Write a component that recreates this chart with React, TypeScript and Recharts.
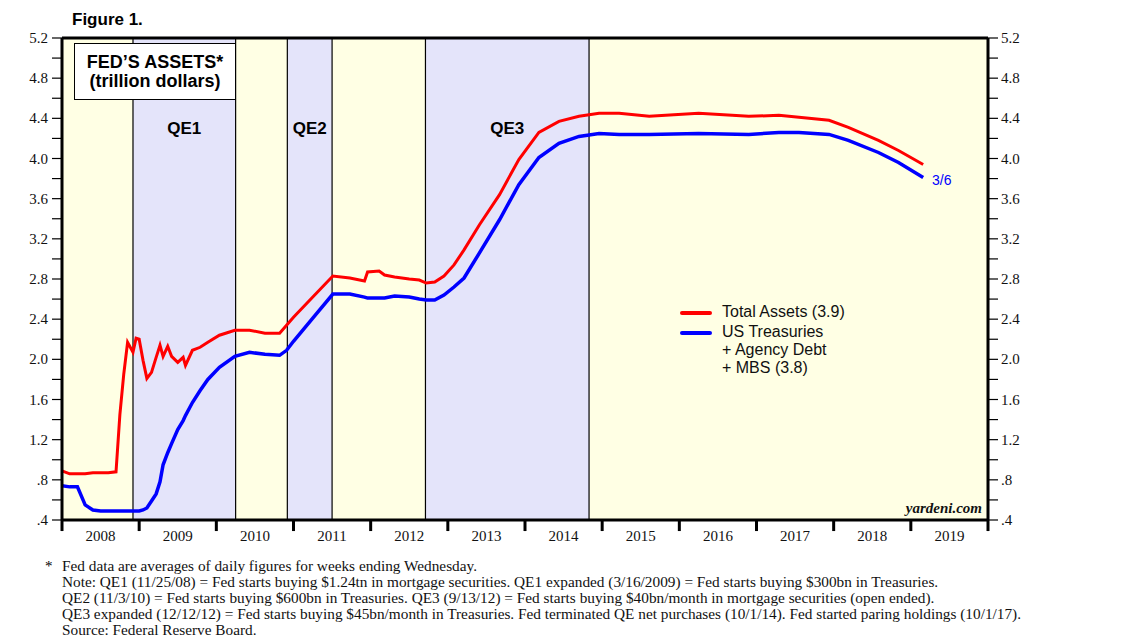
import {
  ComposedChart,
  Line,
  XAxis,
  YAxis,
  ReferenceArea,
  ReferenceLine,
} from "recharts";

// decimal years, weekly data thinned to readable points
const dates = [
  2008.0, 2008.1, 2008.2, 2008.3, 2008.4, 2008.5, 2008.6, 2008.7, 2008.75, 2008.8,
  2008.85, 2008.92, 2008.96, 2009.0, 2009.05, 2009.1, 2009.16, 2009.22, 2009.27, 2009.31,
  2009.37, 2009.42, 2009.5, 2009.57, 2009.6, 2009.69, 2009.79, 2009.89, 2010.04, 2010.24,
  2010.43, 2010.63, 2010.82, 2010.91, 2011.0, 2011.25, 2011.51, 2011.73, 2011.92, 2011.96,
  2012.11, 2012.18, 2012.31, 2012.5, 2012.63, 2012.72, 2012.83, 2012.95, 2013.08, 2013.21,
  2013.41, 2013.67, 2013.92, 2014.18, 2014.44, 2014.7, 2014.96, 2015.22, 2015.61, 2016.25,
  2016.9, 2017.29, 2017.55, 2017.94, 2018.19, 2018.58, 2018.84, 2019.16,
];

const totalAssets = [
  0.89, 0.86, 0.86, 0.86, 0.87, 0.87, 0.87, 0.88, 1.45, 1.85,
  2.17, 2.07, 2.21, 2.2, 1.99, 1.81, 1.87, 2.02, 2.14, 2.03,
  2.13, 2.03, 1.97, 2.02, 1.94, 2.09, 2.12, 2.17, 2.24, 2.29,
  2.29, 2.26, 2.26, 2.34, 2.42, 2.62, 2.83, 2.81, 2.78, 2.87,
  2.88, 2.84, 2.82, 2.8, 2.79, 2.76, 2.77, 2.83, 2.94, 3.09,
  3.34, 3.64, 3.99, 4.26, 4.37, 4.42, 4.45, 4.45, 4.42, 4.45,
  4.42, 4.43, 4.41, 4.38, 4.31, 4.18, 4.08, 3.94,
];

const treasuriesMbs = [
  0.74, 0.73, 0.73, 0.55, 0.5, 0.49, 0.49, 0.49, 0.49, 0.49,
  0.49, 0.49, 0.49, 0.49, 0.5, 0.52, 0.59, 0.66, 0.78, 0.95,
  1.07, 1.16, 1.3, 1.39, 1.44, 1.57, 1.69, 1.8, 1.92, 2.03,
  2.07, 2.05, 2.04, 2.09, 2.18, 2.41, 2.65, 2.65, 2.62, 2.61,
  2.61, 2.61, 2.63, 2.62, 2.6, 2.59, 2.59, 2.64, 2.72, 2.81,
  3.06, 3.39, 3.74, 4.01, 4.15, 4.22, 4.25, 4.24, 4.24, 4.25,
  4.24, 4.26, 4.26, 4.24, 4.18, 4.06, 3.96, 3.81,
];

const years = [2008, 2009, 2010, 2011, 2012, 2013, 2014, 2015, 2016, 2017, 2018, 2019];
const yearBounds = [2008, 2009, 2010, 2011, 2012, 2013, 2014, 2015, 2016, 2017, 2018, 2019, 2020];

const yTicks = [0.4, 0.6, 0.8, 1.0, 1.2, 1.4, 1.6, 1.8, 2.0, 2.2, 2.4, 2.6, 2.8, 3.0, 3.2, 3.4, 3.6, 3.8, 4.0, 4.2, 4.4, 4.6, 4.8, 5.0, 5.2];
const yTickLabels = [".4", "", ".8", "", "1.2", "", "1.6", "", "2.0", "", "2.4", "", "2.8", "", "3.2", "", "3.6", "", "4.0", "", "4.4", "", "4.8", "", "5.2"];

const qePeriods = [
  { name: "QE1", start: 2008.92, end: 2010.25 },
  { name: "QE2", start: 2010.92, end: 2011.5 },
  { name: "QE3", start: 2012.71, end: 2014.83 },
];

const footnotes = [
  "Fed data are averages of daily figures for weeks ending Wednesday.",
  "Note: QE1 (11/25/08) = Fed starts buying $1.24tn in mortgage securities. QE1 expanded (3/16/2009) = Fed starts buying $300bn in Treasuries.",
  "QE2 (11/3/10) = Fed starts buying $600bn in Treasuries. QE3 (9/13/12) = Fed starts buying $40bn/month in mortgage securities (open ended).",
  "QE3 expanded (12/12/12) = Fed starts buying $45bn/month in Treasuries. Fed terminated QE net purchases (10/1/14). Fed started paring holdings (10/1/17).",
  "Source: Federal Reserve Board.",
];

const data = dates.map((t, i) => ({ t, total: totalAssets[i], treas: treasuriesMbs[i] }));

const SANS = "'Liberation Sans', Arial, sans-serif";
const SERIF = "'Liberation Serif', 'Times New Roman', serif";

const yFmt = (v: number) => {
  const i = yTicks.findIndex((t) => Math.abs(t - v) < 1e-6);
  return i >= 0 ? yTickLabels[i] : "";
};

const LeftTick = (p: any) => (
  <text x={p.x} y={p.y} dy={5} textAnchor="end" fontSize={15} fontFamily={SERIF} fill="#111">
    {yFmt(p.payload.value)}
  </text>
);

const RightTick = (p: any) => (
  <text x={p.x} y={p.y} dy={5} textAnchor="start" fontSize={15} fontFamily={SERIF} fill="#111">
    {yFmt(p.payload.value)}
  </text>
);

const YearTick = (p: any) => (
  <text x={p.x} y={p.y} dy={12} textAnchor="middle" fontSize={15} fontFamily={SERIF} fill="#111">
    {Math.floor(p.payload.value)}
  </text>
);

export default function App() {
  return (
    <div style={{ position: "relative", width: 1130, height: 629 }}>
      <ComposedChart
        width={1040}
        height={560}
        data={data}
        margin={{ top: 30, right: 0, left: 0, bottom: 0 }}
      >
        <XAxis
          xAxisId="x"
          dataKey="t"
          type="number"
          domain={[2008, 2020]}
          allowDataOverflow
          ticks={years.map((y) => y + 0.5)}
          tickLine={false}
          tickSize={6}
          tickMargin={3}
          axisLine={{ stroke: "#000", strokeWidth: 3 }}
          tick={YearTick}
          height={48}
          interval={0}
        />
        <YAxis
          yAxisId="l"
          orientation="left"
          domain={[0.4, 5.2]}
          ticks={yTicks}
          interval={0}
          width={54}
          tickSize={10}
          tickMargin={4}
          axisLine={{ stroke: "#000", strokeWidth: 3 }}
          tickLine={{ stroke: "#000", strokeWidth: 1.2 }}
          tick={LeftTick}
          allowDataOverflow
        />
        <YAxis
          yAxisId="r"
          orientation="right"
          domain={[0.4, 5.2]}
          ticks={yTicks}
          interval={0}
          width={60}
          tickSize={10}
          tickMargin={3}
          axisLine={{ stroke: "#000", strokeWidth: 3 }}
          tickLine={{ stroke: "#000", strokeWidth: 1.2 }}
          tick={RightTick}
          allowDataOverflow
        />

        <ReferenceArea
          xAxisId="x"
          yAxisId="l"
          x1={2008}
          x2={2020}
          y1={0.4}
          y2={5.2}
          fill="#FFFFE4"
          fillOpacity={1}
          stroke="none"
        />
        {qePeriods.map((q) => (
          <ReferenceArea
            key={q.name}
            xAxisId="x"
            yAxisId="l"
            x1={q.start}
            x2={q.end}
            y1={0.4}
            y2={5.2}
            fill="#E4E4FA"
            fillOpacity={1}
            stroke="none"
            label={{
              value: q.name,
              position: "insideTop",
              offset: 84,
              fill: "#000",
              fontSize: 17,
              fontWeight: "bold",
              fontFamily: SANS,
            }}
          />
        ))}
        {qePeriods.flatMap((q) => [q.start, q.end]).map((x) => (
          <ReferenceLine key={"b" + x} xAxisId="x" yAxisId="l" x={x} stroke="#000" strokeWidth={1.2} />
        ))}

        {/* year tick marks below the axis */}
        {yearBounds.map((y) => (
          <ReferenceLine
            key={"yt" + y}
            xAxisId="x"
            yAxisId="l"
            segment={[
              { x: y, y: 0.4 },
              { x: y, y: 0.29 },
            ]}
            stroke="#000"
            strokeWidth={3}
            ifOverflow="visible"
          />
        ))}
        <ReferenceLine xAxisId="x" yAxisId="l" y={5.2} stroke="#000" strokeWidth={3} ifOverflow="visible" />

        <Line
          xAxisId="x"
          yAxisId="l"
          dataKey="total"
          stroke="#FF0000"
          strokeWidth={3}
          dot={false}
          type="linear"
          isAnimationActive={false}
        />
        <Line
          xAxisId="x"
          yAxisId="l"
          dataKey="treas"
          stroke="#0000FF"
          strokeWidth={3.5}
          dot={false}
          type="linear"
          isAnimationActive={false}
        />
      </ComposedChart>

      <div style={{ position: "absolute", left: 64, top: 2, fontFamily: SANS, fontWeight: "bold", fontSize: 17, lineHeight: "20px" }}>
        Figure 1.
      </div>

      <div
        style={{
          position: "absolute",
          left: 66,
          top: 35,
          width: 160,
          height: 55,
          border: "1.5px solid #000",
          background: "#fff",
          display: "flex",
          flexDirection: "column",
          justifyContent: "center",
          alignItems: "center",
          fontFamily: SANS,
          fontWeight: "bold",
          fontSize: 18,
          lineHeight: "19px",
        }}
      >
        <div>FED’S ASSETS*</div>
        <div>(trillion dollars)</div>
      </div>

      <div style={{ position: "absolute", left: 672, top: 303, width: 32, height: 4, background: "#FF0000", borderRadius: 2 }} />
      <div style={{ position: "absolute", left: 672, top: 323, width: 32, height: 4, background: "#0000FF", borderRadius: 2 }} />
      <div style={{ position: "absolute", left: 714, top: 295, fontFamily: SANS, fontSize: 16, lineHeight: "18px", color: "#111" }}>
        <div style={{ marginBottom: 2 }}>Total Assets (3.9)</div>
        <div>US Treasuries</div>
        <div>+ Agency Debt</div>
        <div>+ MBS (3.8)</div>
      </div>

      <div style={{ position: "absolute", left: 924, top: 163, fontFamily: SANS, fontSize: 14, lineHeight: "18px", color: "#0000FF" }}>
        3/6
      </div>

      <div style={{ position: "absolute", right: 1130 - 974, top: 491, fontFamily: SERIF, fontStyle: "italic", fontWeight: "bold", fontSize: 15, lineHeight: "18px", color: "#111" }}>
        yardeni.com
      </div>

      <div style={{ position: "absolute", left: 37, top: 550, fontFamily: SERIF, fontSize: 15, lineHeight: "16px" }}>*</div>
      <div style={{ position: "absolute", left: 54, top: 550, fontFamily: SERIF, fontSize: 15.3, lineHeight: "16px", whiteSpace: "nowrap", color: "#111" }}>
        {footnotes.map((f) => (
          <div key={f}>{f}</div>
        ))}
      </div>
    </div>
  );
}
